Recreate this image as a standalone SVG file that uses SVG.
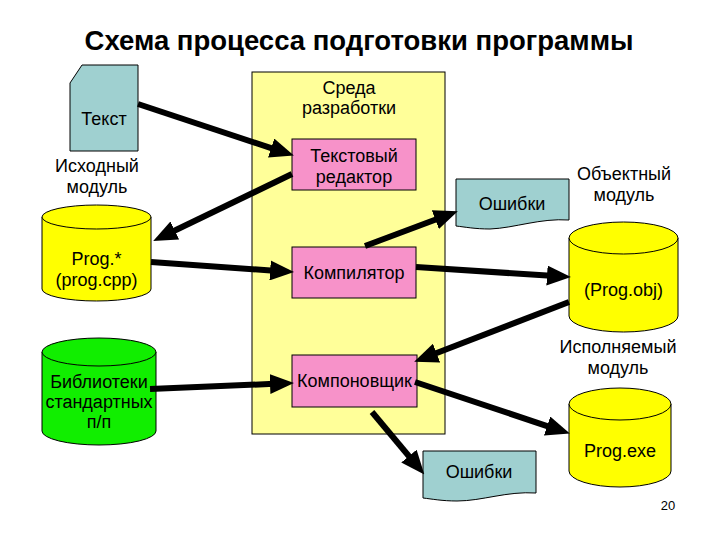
<svg xmlns="http://www.w3.org/2000/svg" width="720" height="540" viewBox="0 0 720 540">
<style>
text{font-family:"Liberation Sans",Arial,sans-serif;font-size:18px;fill:#000;text-anchor:middle}
.title{font-size:27.5px;font-weight:bold}
.doc{fill:#9fd0d0;stroke:#000;stroke-width:1}
.box{fill:#f792c9;stroke:#000;stroke-width:1}
.cyl{stroke:#000;stroke-width:1}
.y{fill:#ffff00}
.g{fill:#11ee00}
.conn{stroke:#000;stroke-width:6;fill:none;marker-end:url(#ah)}
</style>
<defs>
<marker id="ah" markerUnits="userSpaceOnUse" markerWidth="24" markerHeight="20" viewBox="0 0 24 20" refX="4" refY="10" orient="auto">
<path d="M0,0 L24,10 L0,20 Z" fill="#000"/>
</marker>
</defs>
<rect width="720" height="540" fill="#fff"/>
<text class="title" x="359" y="50">Схема процесса подготовки программы</text>

<g id="env">
<rect x="252" y="72" width="193" height="362" fill="#ffff99" stroke="#000" stroke-width="1"/>
<text x="349" y="94">Среда</text>
<text x="349" y="114">разработки</text>
</g>

<g id="text-doc">
<polygon class="doc" points="82,65 138,65 138,151 70,151 70,83"/>
<text x="104" y="125">Текст</text>
</g>

<g id="src-label">
<text x="97" y="172">Исходный</text>
<text x="97" y="193">модуль</text>
</g>

<g id="prog-src">
<path class="cyl y" d="M42,217 V289 A54.5,12 0 0 0 151,289 V217"/>
<ellipse class="cyl y" cx="96.5" cy="217" rx="54.5" ry="12"/>
<text x="96.5" y="265">Prog.*</text>
<text x="96.5" y="286">(prog.cpp)</text>
</g>

<g id="lib">
<path class="cyl g" d="M42,352 V431 A57,14 0 0 0 156,431 V352"/>
<ellipse class="cyl g" cx="99" cy="352" rx="57" ry="14"/>
<text x="99" y="388">Библиотеки</text>
<text x="99" y="408">стандартных</text>
<text x="99" y="428">п/п</text>
</g>

<g id="editor">
<rect class="box" x="292" y="139" width="124" height="51"/>
<text x="354" y="162">Текстовый</text>
<text x="354" y="183">редактор</text>
</g>

<g id="compiler">
<rect class="box" x="292" y="247" width="124" height="51"/>
<text x="354" y="279">Компилятор</text>
</g>

<g id="linker">
<rect class="box" x="292" y="355" width="125" height="52"/>
<text x="354.5" y="387">Компоновщик</text>
</g>

<g id="errors1">
<path class="doc" d="M456,179 H569 V220 C540,218 515,228 490,229 C475,229 465,227 456,226 Z"/>
<text x="512" y="210">Ошибки</text>
</g>

<g id="obj-label">
<text x="624" y="180">Объектный</text>
<text x="624" y="201">модуль</text>
</g>

<g id="prog-obj">
<path class="cyl y" d="M569,238 V316 A54.5,16 0 0 0 678,316 V238"/>
<ellipse class="cyl y" cx="623.5" cy="238" rx="54.5" ry="16"/>
<text x="623.5" y="296">(Prog.obj)</text>
</g>

<g id="exe-label">
<text x="618" y="353">Исполняемый</text>
<text x="618" y="374">модуль</text>
</g>

<g id="prog-exe">
<path class="cyl y" d="M569,404 V471 A51,16 0 0 0 671,471 V404"/>
<ellipse class="cyl y" cx="620" cy="404" rx="51" ry="16"/>
<text x="620" y="457">Prog.exe</text>
</g>

<g id="errors2">
<path class="doc" d="M423,451 H536 V493 C507,491 482,501 457,501 C442,501 432,499 423,498 Z"/>
<text x="479" y="478">Ошибки</text>
</g>

<g id="page-num">
<text x="668" y="510" style="font-size:13px">20</text>
</g>

<g id="connectors">
<line class="conn" x1="138" y1="104" x2="274.9" y2="149.3"/>
<line class="conn" x1="292" y1="174" x2="171.2" y2="232.2"/>
<line class="conn" x1="151" y1="262" x2="274.1" y2="270.7"/>
<line class="conn" x1="365" y1="246" x2="439.1" y2="218.3"/>
<line class="conn" x1="416" y1="267" x2="551" y2="275.8"/>
<line class="conn" x1="569" y1="302" x2="432.8" y2="354.5"/>
<line class="conn" x1="150" y1="389" x2="274" y2="383.8"/>
<line class="conn" x1="415" y1="382" x2="550.9" y2="427.3"/>
<line class="conn" x1="372" y1="412" x2="411.5" y2="459.2"/>
</g>
</svg>
